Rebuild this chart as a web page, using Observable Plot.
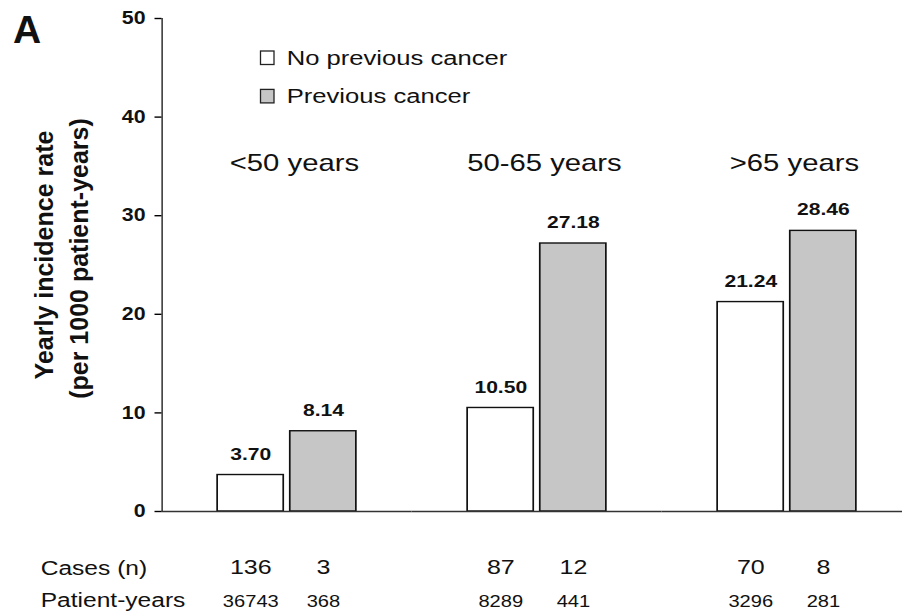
<!DOCTYPE html>
<html><head><meta charset="utf-8">
<script src="https://cdn.jsdelivr.net/npm/d3@7"></script>
<script src="https://cdn.jsdelivr.net/npm/@observablehq/plot@0.6"></script>
<style>
html,body{margin:0;padding:0;background:#fff;overflow:hidden;}
#wrap{position:relative;width:902px;height:614px;}
#wrap > svg.ov{position:absolute;left:0;top:0;pointer-events:none;}
#wrap svg g[aria-label="y-axis tick label"] text{font-weight:700;font-size:17.5px;fill:#111;}
#wrap svg g[aria-label="y-axis tick"]{stroke:#333;stroke-width:1.4px;}
#wrap svg g[aria-label="y-axis line"], #wrap svg g[aria-label="y-axis line"] *{stroke:#333;stroke-width:1.4px;}
</style></head><body><div id="wrap"></div>
<script>
// ---- data ----
const groups = ["<50 years", "50-65 years", ">65 years"];
const seriesNames = ["No previous cancer", "Previous cancer"];
const rateNoPrev = [3.70, 10.50, 21.24];
const ratePrev = [8.14, 27.18, 28.46];
const casesNoPrev = [136, 87, 70];
const casesPrev = [3, 12, 8];
const pyNoPrev = [36743, 8289, 3296];
const pyPrev = [368, 441, 281];
const yTicks = [0, 10, 20, 30, 40, 50];
const seriesColors = ["#ffffff", "#c6c6c6"];
const rowLabels = ["Cases (n)", "Patient-years"];
const yLabelLines = ["Yearly incidence rate", "(per 1000 patient-years)"];
const panelLabel = "A";

const rows = [];
groups.forEach((g, i) => {
  rows.push({group: g, series: seriesNames[0], rate: rateNoPrev[i], cases: casesNoPrev[i], py: pyNoPrev[i]});
  rows.push({group: g, series: seriesNames[1], rate: ratePrev[i], cases: casesPrev[i], py: pyPrev[i]});
});

const S = 1.22; // horizontal stretch of the original figure
const W = 902 / S, H = 614;
const font = "'Liberation Sans', Arial, Helvetica, sans-serif";

const plot = Plot.plot({
  width: W, height: H,
  marginLeft: 161.5 / S, marginRight: 0, marginTop: 18, marginBottom: 103,
  style: {fontFamily: font, background: "transparent", overflow: "hidden"},
  fx: {domain: groups, range: [161.5 / S, 911.5 / S], padding: 0, round: false, axis: null},
  x: {domain: seriesNames, paddingInner: 0.09, paddingOuter: 0.766, round: false, axis: null},
  y: {domain: [0, 50], ticks: yTicks, tickSize: 7 / S, tickPadding: 7.8, line: true, label: null, tickFormat: d3.format("d")},
  color: {domain: seriesNames, range: seriesColors},
  marks: [
    Plot.barY(rows, {fx: "group", x: "series", y: "rate", fill: "series", stroke: "#111", strokeWidth: 1.4}),
    Plot.ruleY([0], {stroke: "#333", strokeWidth: 1.6}),
    Plot.text(rows, {fx: "group", x: "series", y: "rate", text: d => d.rate.toFixed(2), lineAnchor: "middle", dy: -21, fontSize: 17.3, fontWeight: "bold", fill: "#111"}),
    Plot.text(groups, {fx: d => d, text: d => d, frameAnchor: "top", lineAnchor: "middle", dy: 144.5, dx: 6, fontSize: 24, fill: "#111"}),
    Plot.text(rows, {fx: "group", x: "series", text: d => String(d.cases), frameAnchor: "bottom", lineAnchor: "middle", dy: 55.7, fontSize: 20.5, fill: "#111"}),
    Plot.text(rows, {fx: "group", x: "series", text: d => String(d.py), frameAnchor: "bottom", lineAnchor: "middle", dy: 90.7, fontSize: 16.5, fill: "#111"})
  ]
});
plot.setAttribute("preserveAspectRatio", "none");
plot.style.width = "902px";
plot.style.height = "614px";
plot.style.maxWidth = "none";
plot.style.display = "block";
const wrap = document.getElementById("wrap");
wrap.appendChild(plot);

// ---- overlay: panel letter, y-axis title, legend, row labels ----
const ov = d3.create("svg").attr("class", "ov").attr("width", 902).attr("height", 614)
  .style("font-family", font).attr("fill", "#111");
ov.append("text").attr("x", 13).attr("y", 43).attr("font-size", 39).attr("font-weight", "bold").text(panelLabel);
ov.append("text").attr("transform", "translate(53,255) rotate(-90)").attr("text-anchor", "middle")
  .attr("font-size", 25).attr("font-weight", "bold").text(yLabelLines[0]);
ov.append("text").attr("transform", "translate(88,258.5) rotate(-90)").attr("text-anchor", "middle")
  .attr("font-size", 25).attr("font-weight", "bold").text(yLabelLines[1]);
seriesNames.forEach((s, i) => {
  ov.append("rect").attr("x", 260.5).attr("y", 51 + 38.4 * i).attr("width", 13.5).attr("height", 13.5)
    .attr("fill", seriesColors[i]).attr("stroke", "#222").attr("stroke-width", 1.3);
  ov.append("text").attr("transform", `translate(286.7,${65 + 38.3 * i}) scale(${S},1)`)
    .attr("font-size", 21).text(s);
});
rowLabels.forEach((t, i) => {
  ov.append("text").attr("transform", `translate(40.7,${575 + 31.7 * i}) scale(1.17,1)`)
    .attr("font-size", 21).text(t);
});
wrap.appendChild(ov.node());
</script>
</body></html>
